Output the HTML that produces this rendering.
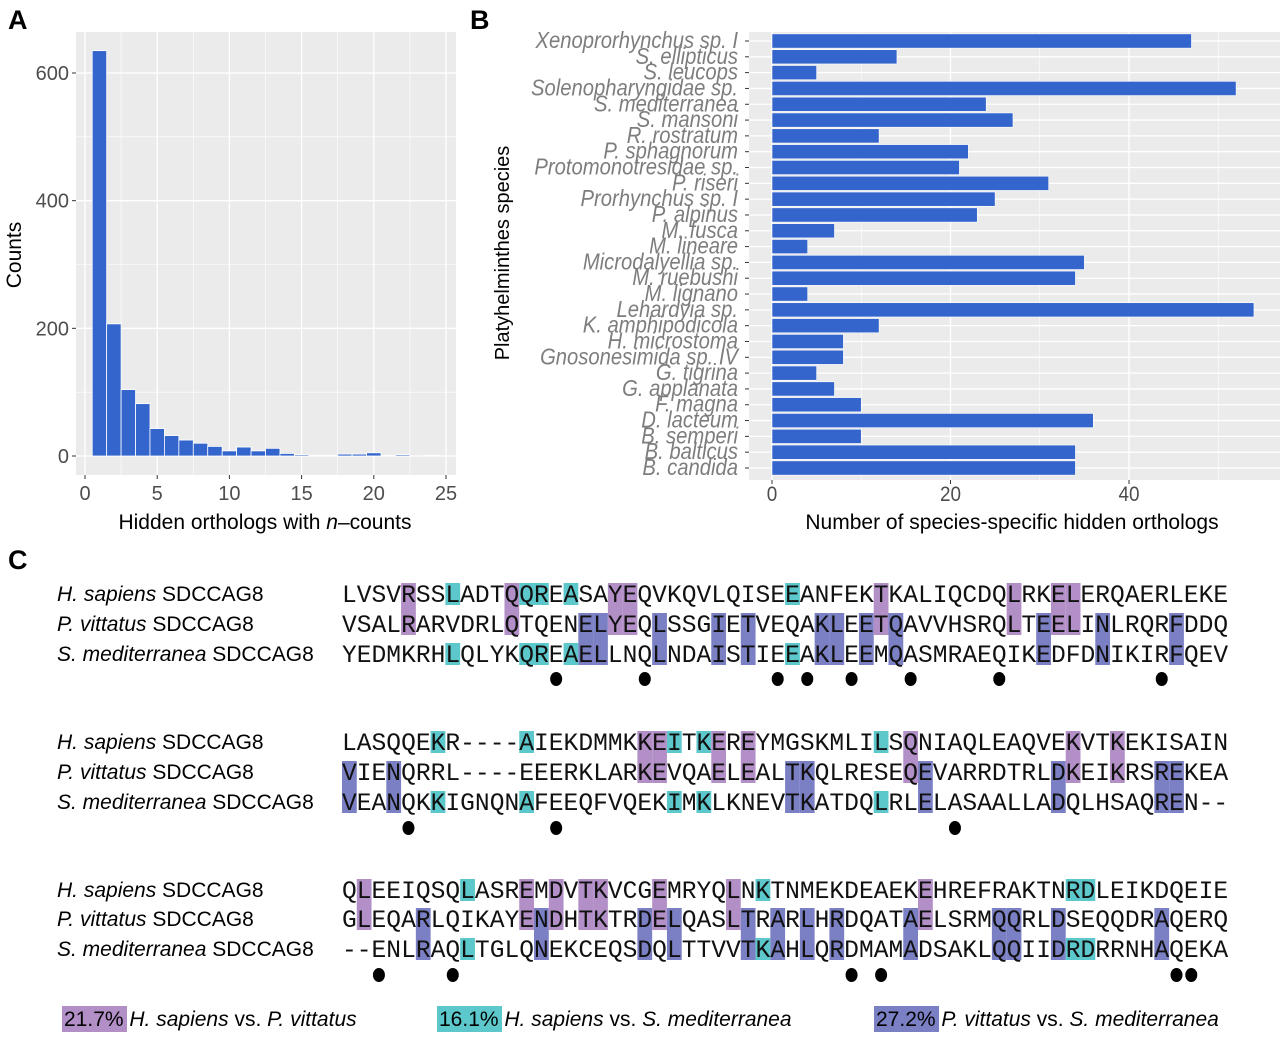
<!DOCTYPE html>
<html><head><meta charset="utf-8"><style>
html,body{margin:0;padding:0;background:#fff;width:1280px;height:1040px;overflow:hidden}
svg{display:block}
.t{font-family:"Liberation Sans",sans-serif}
.m{font-family:"Liberation Mono",monospace}
</style></head><body>
<svg id="fig" width="1280" height="1040" xmlns="http://www.w3.org/2000/svg">
<text class="t" x="8" y="29" font-size="27" font-weight="bold">A</text>
<text class="t" x="470" y="29" font-size="27" font-weight="bold">B</text>
<text class="t" x="8" y="569" font-size="27" font-weight="bold">C</text>
<g id="pa"></g>
<g id="pb"></g>
<g id="pc"></g>
<g id="lg"></g>
</svg>
<script>
// ---- Panel A data ----
const histBins = [1,2,3,4,5,6,7,8,9,10,11,12,13,14,15,16,17,18,19,20,21,22,23,24];
const histCounts = [635,207,104,82,43,32,25,20,15,8,14,8,12,4,2,1,1,3,3,5,1,2,0,1];
const histXTicks = [0,5,10,15,20,25];
const histYTicks = [0,200,400,600];
// ---- Panel B data ----
const speciesNames = ["Xenoprorhynchus sp. I","S. ellipticus","S. leucops","Solenopharyngidae sp.","S. mediterranea","S. mansoni","R. rostratum","P. sphagnorum","Protomonotresidae sp.","P. riseri","Prorhynchus sp. I","P. alpinus","M. fusca","M. lineare","Microdalyellia sp.","M. ruebushi","M. lignano","Lehardyia sp.","K. amphipodicola","H. microstoma","Gnosonesimida sp. IV","G. tigrina","G. applanata","F. magna","D. lacteum","B. semperi","B. balticus","B. candida"];
const speciesCounts = [47,14,5,52,24,27,12,22,21,31,25,23,7,4,35,34,4,54,12,8,8,5,7,10,36,10,34,34];
const speciesXTicks = [0,20,40];
// ---- Panel C data ----
const seqNames = [["H. sapiens"," SDCCAG8"],["P. vittatus"," SDCCAG8"],["S. mediterranea"," SDCCAG8"]];
const seqBlocks = [
 ["LVSVRSSLADTQQREASAYEQVKQVLQISEEANFEKTKALIQCDQLRKELERQAERLEKE",
  "VSALRARVDRLQTQENELYEQLSSGIETVEQAKLEETQAVVHSRQLTEELINLRQRFDDQ",
  "YEDMKRHLQLYKQREAELLNQLNDAISTIEEAKLEEMQASMRAEQIKEDFDNIKIRFQEV"],
 ["LASQQEKR----AIEKDMMKKEITKEREYMGSKMLILSQNIAQLEAQVEKVTKEKISAIN",
  "VIENQRRL----EEERKLARKEVQAELEALTKQLRESEQEVARRDTRLDKEIKRSREKEA",
  "VEANQKKIGNQNAFEEQFVQEKIMKLKNEVTKATDQLRLELASAALLADQLHSAQREN--"],
 ["QLEEIQSQLASREMDVTKVCGEMRYQLNKTNMEKDEAEKEHREFRAKTNRDLEIKDQEIE",
  "GLEQARLQIKAYENDHTKTRDELQASLTRARLHRDQATAELSRMQQRLDSEQQDRAQERQ",
  "--ENLRAQLTGLQNEKCEQSDQLTTVVTKAHLQRDMAMADSAKLQQIIDRDRRNHAQEKA"]];
const dotCols = [[14,20,29,31,34,38,44,55],[4,14,41],[2,7,34,36,56,57]];
const legendPct = ["21.7%","16.1%","27.2%"];
const legendText = [["H. sapiens"," vs. ","P. vittatus"],["H. sapiens"," vs. ","S. mediterranea"],["P. vittatus"," vs. ","S. mediterranea"]];

const NS="http://www.w3.org/2000/svg";
function mk(tag,attrs,parent){const e=document.createElementNS(NS,tag);for(const k in attrs)e.setAttribute(k,attrs[k]);parent.appendChild(e);return e;}
const BLUE="#3365cc";

// ---- Panel A ----
(function(){
 const g=document.getElementById('pa');
 const L=76,R=456,T=32,B=475;
 const xs=v=>85+v*(446-85)/25, ys=v=>456-v*(456-73)/600;
 let bg=mk('rect',{x:L,y:T,width:R-L,height:B-T,fill:'#ebebeb'},g);
 
 for(let v=100;v<=700;v+=200){if(ys(v)>T)mk('line',{x1:L,x2:R,y1:ys(v),y2:ys(v),stroke:'#fff','stroke-width':0.6},g);}
 for(let v=2.5;v<25;v+=5)mk('line',{x1:xs(v),x2:xs(v),y1:T,y2:B,stroke:'#fff','stroke-width':0.6},g);
 histYTicks.forEach(v=>mk('line',{x1:L,x2:R,y1:ys(v),y2:ys(v),stroke:'#fff','stroke-width':1.3},g));
 histXTicks.forEach(v=>mk('line',{x1:xs(v),x2:xs(v),y1:T,y2:B,stroke:'#fff','stroke-width':1.3},g));
 histBins.forEach((b,i)=>{const c=histCounts[i];if(c<=0)return;
  const r=mk('rect',{x:xs(b-0.5),y:ys(c),width:xs(b+0.5)-xs(b-0.5),height:Math.max(ys(0)-ys(c),0.8),fill:BLUE,stroke:'#fff','stroke-width':0.8},g);
  
  });
 histYTicks.forEach(v=>{mk('line',{x1:L-4,x2:L,y1:ys(v),y2:ys(v),stroke:'#333'},g);
  const t=mk('text',{x:L-7,y:ys(v)+7,'text-anchor':'end','font-size':20,fill:'#4d4d4d',class:'t'},g);t.textContent=v;
  });
 histXTicks.forEach(v=>{mk('line',{x1:xs(v),x2:xs(v),y1:B,y2:B+4,stroke:'#333'},g);
  const t=mk('text',{x:xs(v),y:B+25,'text-anchor':'middle','font-size':20,fill:'#4d4d4d',class:'t'},g);t.textContent=v;
  });
 const yt=mk('text',{x:0,y:0,transform:'translate(21,255) rotate(-90)','text-anchor':'middle','font-size':21,class:'t'},g);yt.textContent='Counts';
 
 const xt=mk('text',{x:265,y:529,'text-anchor':'middle','font-size':21,class:'t'},g);
 xt.innerHTML='Hidden orthologs with <tspan font-style="italic">n</tspan>–counts';
 
})();

// ---- Panel B ----
(function(){
 const g=document.getElementById('pb');
 const L=749,R=1280,T=32,B=480;
 const xs=v=>772+v*(1129-772)/40;
 const n=speciesNames.length, step=(468-41)/(n-1), ys=i=>41+i*step;
 let bg=mk('rect',{x:L,y:T,width:R-L,height:B-T,fill:'#ebebeb'},g);
 
 [10,30,50].forEach(v=>mk('line',{x1:xs(v),x2:xs(v),y1:T,y2:B,stroke:'#fff','stroke-width':0.6},g));
 speciesXTicks.forEach(v=>mk('line',{x1:xs(v),x2:xs(v),y1:T,y2:B,stroke:'#fff','stroke-width':1.3},g));
 speciesNames.forEach((s,i)=>mk('line',{x1:L,x2:R,y1:ys(i),y2:ys(i),stroke:'#fff','stroke-width':1.3},g));
 speciesNames.forEach((s,i)=>{const h=step*0.9;
  const r=mk('rect',{x:xs(0),y:ys(i)-h/2,width:xs(speciesCounts[i])-xs(0),height:h,fill:BLUE,stroke:'#fff','stroke-width':0.6},g);
  
  
  mk('line',{x1:L-4,x2:L,y1:ys(i),y2:ys(i),stroke:'#333'},g);
  const t=mk('text',{x:0,y:0,transform:`translate(738,${ys(i)+7}) scale(0.88,1)`,'text-anchor':'end','font-size':23,'font-style':'italic',fill:'#7d7d7d',class:'t'},g);
  t.textContent=s;
  
  });
 speciesXTicks.forEach(v=>{mk('line',{x1:xs(v),x2:xs(v),y1:B,y2:B+4,stroke:'#333'},g);
  const t=mk('text',{x:0,y:0,transform:`translate(${xs(v)},${B+21}) scale(0.9,1)`,'text-anchor':'middle','font-size':21,fill:'#4d4d4d',class:'t'},g);t.textContent=v;
  });
 const yt=mk('text',{x:0,y:0,transform:'translate(509,253) rotate(-90)','text-anchor':'middle','font-size':20,class:'t'},g);yt.textContent='Platyhelminthes species';
 
 const xt=mk('text',{x:0,y:0,transform:'translate(1012,529)','text-anchor':'middle','font-size':21,class:'t'},g);xt.textContent='Number of species-specific hidden orthologs';
 
})();

// ---- Panel C ----
(function(){
 const g=document.getElementById('pc');
 const X0=342, CW=14.77;
 const blockBase=[[602,632,662],[750,780,810],[898,927,957]];
 const dotY=[679,828,975];
 const P="#b38fc7",C="#5cc8cb",Bc="#7b80c4";
 seqBlocks.forEach((blk,bi)=>{
  const [b1,b2,b3]=blockBase[bi];
  const [h,p,s]=blk;
  const bg=mk('g',{},g);
  for(let i=0;i<h.length;i++){
   const x=X0+i*CW;
   const hp=h[i]!=='-'&&h[i]===p[i], ps=p[i]!=='-'&&p[i]===s[i], hs=h[i]!=='-'&&h[i]===s[i];
   if(hp&&ps)continue;
   if(hp)mk('rect',{x:x,y:b1-19,width:CW,height:b2-b1+22,fill:P},bg);
   if(ps)mk('rect',{x:x,y:b2-19,width:CW,height:b3-b2+22,fill:Bc},bg);
   if(hs){mk('rect',{x:x,y:b1-19,width:CW,height:22,fill:C},bg);mk('rect',{x:x,y:b3-19,width:CW,height:22,fill:C},bg);}
  }
  [h,p,s].forEach((seq,ri)=>{
   const by=blockBase[bi][ri];
   const lab=mk('text',{x:57,y:by-1,'font-size':21,class:'t'},g);
   lab.innerHTML=`<tspan font-style="italic">${seqNames[ri][0]}</tspan>${seqNames[ri][1]}`;
   
   
   const t=mk('text',{x:X0,y:by,'font-size':24.6,class:'m',fill:'#111',textLength:CW*seq.length,lengthAdjust:'spacing'},g);
   t.textContent=seq;
   
   
  });
  dotCols[bi].forEach(c=>{const d=mk('ellipse',{cx:X0+(c+0.5)*CW,cy:dotY[bi],rx:6,ry:7,fill:'#000'},g);
   
   });
 });
 const lg=document.getElementById('lg');
 const lx=[62,437,874], cols=[P,C,Bc];
 legendPct.forEach((pct,i)=>{
  const r=mk('rect',{x:lx[i],y:1006,width:65,height:26,fill:cols[i]},lg);
  
  
  const t=mk('text',{x:lx[i]+2,y:1026,'font-size':21,class:'t'},lg);
  t.innerHTML=`${pct} <tspan font-style="italic">${legendText[i][0]}</tspan>${legendText[i][1]}<tspan font-style="italic">${legendText[i][2]}</tspan>`;
  
  
 });
})();
</script>
</body></html>
